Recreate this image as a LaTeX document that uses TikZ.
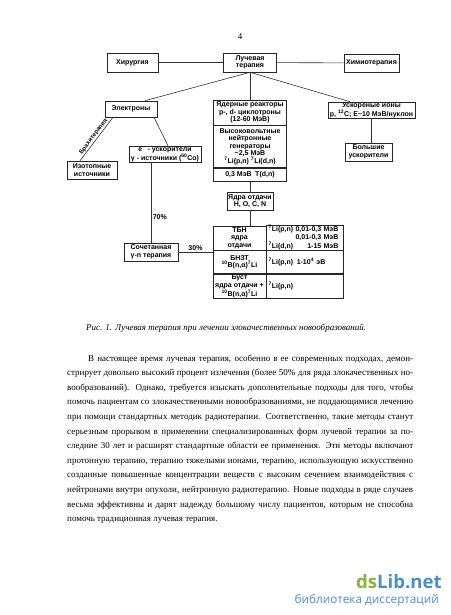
\documentclass[tikz,border=0pt]{standalone}
\usepackage{fontspec}
\setmainfont{Liberation Serif}
\newfontfamily\boxfont{Liberation Sans}
\newfontfamily\wmfont{Open Sans}
\definecolor{wmgreen}{HTML}{8DB03C}
\definecolor{wmblue}{HTML}{4A90C8}
\newlength\bodyw
\setlength\bodyw{346pt}
\newcommand\jl[1]{\hbox to \bodyw{\spaceskip=0.25em plus 1em minus 0.1em\relax #1}}
\begin{document}
\begin{tikzpicture}[x=1pt,y=-1pt,
  bx/.style={draw=black!85, line width=0.6pt, inner sep=0pt, align=center,
    font=\boxfont\bfseries\fontsize{7}{7.6}\selectfont},
  rc/.style={bx, text width=73pt, minimum width=77pt, align=left},
  ln/.style={draw=black!80, line width=0.6pt},
  lbl/.style={font=\boxfont\bfseries\fontsize{7}{7.5}\selectfont, inner sep=1.5pt}]
\useasboundingbox (0,0) rectangle (450,615);
\fill[white] (0,0) rectangle (450,615);

\node[font=\fontsize{9}{10}\selectfont] (pnum) at (240,37) {4};

% top row
\node[bx, minimum width=51pt, minimum height=19pt] (hir) at (132.5,62.5) {Хирургия};
\node[bx, minimum width=53pt, minimum height=19pt] (luch) at (250,62.5) {Лучевая\\терапия};
\node[bx, minimum width=55pt, minimum height=18pt] (him) at (371.5,63) {Химиотерапия};

% electrons branch
\node[bx, minimum width=52pt, minimum height=16pt] (elec) at (131,109) {Электроны};
\node[bx, minimum width=50pt, minimum height=18pt] (izot) at (92,170) {Изотопные\\источники};
\node[bx, minimum width=72pt, minimum height=16pt] (eacc) at (165,154) {e\textsuperscript{−} - ускорители\\γ - источники (\textsuperscript{60}Co)};
\node[bx, minimum width=54pt, minimum height=18pt] (soch) at (151,252) {Сочетанная\\γ-n терапия};

% neutron sources column
\node[bx, minimum width=73pt, minimum height=25pt] (yadA) at (250,112.5) {Ядерные реакторы\\p-, d- циклотроны\\(12-60 МэВ)};
\node[bx, minimum width=73pt, minimum height=42pt, anchor=north] (yadB) at (yadA.south) {Высоковольтные\\нейтронные\\генераторы\\\textasciitilde2,5 МэВ\\\textsuperscript{7}Li(p,n) \textsuperscript{7}Li(d,n)};
\node[bx, minimum width=73pt, minimum height=13pt, anchor=north] (yadC) at (yadB.south) {0,3 МэВ\enspace T(d,n)};
\node[bx, minimum width=46pt, minimum height=18pt] (otd) at (250,201) {Ядра отдачи\\H, O, C, N};

% table
\node[bx, minimum width=53pt, minimum height=24pt] (tbnL) at (239.5,238) {ТБН\\ядра\\отдачи};
\node[rc, minimum height=24pt, anchor=west] (tbnR) at (tbnL.east) {\begin{tabular}{@{}l@{\ }r@{}}\textsuperscript{7}Li(p,n) & 0,01-0,3 МэВ\\ & 0,01-0,3 МэВ\\ \textsuperscript{7}Li(d,n) & 1-15 МэВ\end{tabular}};
\node[bx, minimum width=53pt, minimum height=23pt, anchor=north] (bnztL) at (tbnL.south) {БНЗТ\\\textsuperscript{10}B(n,α)\textsuperscript{7}Li};
\node[rc, minimum height=23pt, anchor=west] (bnztR) at (bnztL.east) {\textsuperscript{7}Li(p,n)\enspace 1-10\textsuperscript{4} эВ};
\node[bx, minimum width=53pt, minimum height=24pt, anchor=north] (bustL) at (bnztL.south) {Буст\\ядра отдачи +\\\textsuperscript{10}B(n,α)\textsuperscript{7}Li};
\node[rc, minimum height=24pt, anchor=west] (bustR) at (bustL.east) {\textsuperscript{7}Li(p,n)};

% ions branch
\node[bx, minimum width=87pt, minimum height=16pt] (usk) at (371.5,110) {Ускореные ионы\\p, \textsuperscript{12}C; E\textasciitilde10 МэВ/нуклон};
\node[bx, minimum width=47pt, minimum height=18pt] (bolsh) at (368.5,152) {Большие\\ускорители};

% connectors
\draw[ln] (hir) -- (luch);
\draw[ln] (luch) -- (him);
\draw[ln] (luch.south) -- ([xshift=14pt]elec.north);
\draw[ln] (luch.south) -- (yadA.north);
\draw[ln] (luch.south) -- ([xshift=-21.5pt]usk.north);
\draw[ln] ([xshift=-12pt]izot.north) -- ([xshift=-18pt]elec.south)
  node[midway, sloped, above, lbl, font=\boxfont\bfseries\fontsize{6}{7}\selectfont, inner sep=0.8pt] {Брахитерапия};
\draw[ln] ([xshift=23pt]elec.south) -- ([xshift=3pt]eacc.north);
\draw[ln] (soch.north |- eacc.south) -- (soch.north) node[pos=0.68, right, lbl] {70\%};
\draw[ln] (soch.east) -- (soch.east -| tbnL.west) node[midway, above, lbl] {30\%};
\draw[ln] (yadC.south) -- (otd.north);
\draw[ln] (otd.south) -- (otd.south |- tbnL.north);
\draw[ln] (usk.south) -- (usk.south |- bolsh.north);

% caption
\node[anchor=base west, inner sep=0, font=\itshape\fontsize{9}{10}\selectfont] (cap) at (86,330) {Рис. 1. Лучевая терапия при лечении злокачественных новообразований.};

% body text
\node[anchor=base west, inner sep=0, font=\fontsize{9}{14.6}\selectfont] (body) at (67,361) {\parbox[t]{346pt}{\baselineskip=14.6pt\lineskip=0pt
\jl{\hskip 21pt В настоящее время лучевая терапия, особенно в ее современных подходах, демон-}
\jl{стрирует довольно высокий процент излечения (более 50\% для ряда злокачественных но-}
\jl{вообразований). Однако, требуется изыскать дополнительные подходы для того, чтобы}
\jl{помочь пациентам со злокачественными новообразованиями, не поддающимися лечению}
\jl{при помощи стандартных методик радиотерапии. Соответственно, такие методы станут}
\jl{серьезным прорывом в применении специализированных форм лучевой терапии за по-}
\jl{следние 30 лет и расширят стандартные области ее применения. Эти методы включают}
\jl{протонную терапию, терапию тяжелыми ионами, терапию, использующую искусственно}
\jl{созданные повышенные концентрации веществ с высоким сечением взаимодействия с}
\jl{нейтронами внутри опухоли, нейтронную радиотерапию. Новые подходы в ряде случаев}
\jl{весьма эффективны и дарят надежду большому числу пациентов, которым не способна}
\hbox{помочь традиционная лучевая терапия.}}};

% watermark
\node[anchor=base west, inner sep=0, font=\wmfont\bfseries\fontsize{18.6}{20}\selectfont] (wm) at (356,588) {\textcolor{wmgreen}{ds}\textcolor{wmblue}{Lib.net}};
\node[anchor=base east, inner sep=0, font=\wmfont\fontsize{11.8}{14}\selectfont, text=wmblue] (wm2) at (439,603) {библиотека диссертаций};
\end{tikzpicture}
\end{document}
